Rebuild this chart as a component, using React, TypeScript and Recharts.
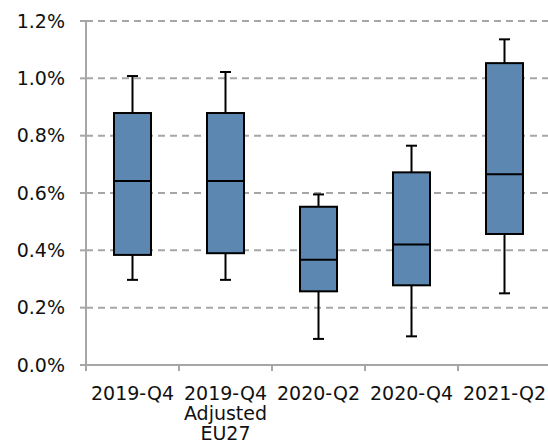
import React from "react";
import {
  ComposedChart,
  Bar,
  XAxis,
  YAxis,
  CartesianGrid,
} from "recharts";

// box plot values, in percent
const categories = ["2019-Q4", "2019-Q4\nAdjusted\nEU27", "2020-Q2", "2020-Q4", "2021-Q2"];
const minVals = [0.297, 0.297, 0.091, 0.1, 0.25];
const q1Vals = [0.384, 0.39, 0.257, 0.278, 0.457];
const medianVals = [0.642, 0.642, 0.367, 0.42, 0.665];
const q3Vals = [0.879, 0.879, 0.552, 0.672, 1.053];
const maxVals = [1.008, 1.022, 0.595, 0.765, 1.136];
const yTicks = [0, 0.2, 0.4, 0.6, 0.8, 1.0, 1.2];

const data = categories.map((name, i) => ({
  name,
  min: minVals[i],
  q1: q1Vals[i],
  median: medianVals[i],
  q3: q3Vals[i],
  max: maxVals[i],
}));

const FONT = "'DejaVu Sans', Verdana, sans-serif";
const AXIS_Y = 365; // chart height minus x axis height
const GREY = "#A6A6A6";

const BoxShape = (props: any) => {
  const { x, y, width, height, payload } = props;
  const top = Math.min(y, y + height);
  const h = Math.abs(height);
  const k = h / (payload.q3 - payload.q1);
  const toY = (v: number) => top + (payload.q3 - v) * k;
  const cx = x + width / 2;
  const cap = 5.5;
  return (
    <g>
      <line x1={cx} x2={cx} y1={toY(payload.max)} y2={top} stroke="#000" strokeWidth={2} />
      <line x1={cx} x2={cx} y1={top + h} y2={toY(payload.min)} stroke="#000" strokeWidth={2} />
      <line x1={cx - cap} x2={cx + cap} y1={toY(payload.max)} y2={toY(payload.max)} stroke="#000" strokeWidth={2} />
      <line x1={cx - cap} x2={cx + cap} y1={toY(payload.min)} y2={toY(payload.min)} stroke="#000" strokeWidth={2} />
      <rect x={x} y={top} width={width} height={h} fill="#5B87B1" stroke="#000" strokeWidth={2} />
      <line x1={x} x2={x + width} y1={toY(payload.median)} y2={toY(payload.median)} stroke="#000" strokeWidth={2} />
    </g>
  );
};

const CategoryTick = (props: any) => {
  const { x, payload, index, visibleTicksCount } = props;
  const half = payload.offset || 0;
  const lines = String(payload.value).split("\n");
  const isLast = index === visibleTicksCount - 1;
  return (
    <g>
      <line x1={x - half} x2={x - half} y1={AXIS_Y} y2={AXIS_Y + 6} stroke={GREY} strokeWidth={2} />
      {isLast && (
        <line x1={x + half} x2={x + half} y1={AXIS_Y} y2={AXIS_Y + 6} stroke={GREY} strokeWidth={2} />
      )}
      <text x={x} y={400} textAnchor="middle" fontFamily={FONT} fontSize={19} fill="#111">
        {lines.map((l, i) => (
          <tspan key={i} x={x} dy={i === 0 ? 0 : 20}>
            {l}
          </tspan>
        ))}
      </text>
    </g>
  );
};

export default function App() {
  return (
    <div style={{ position: "absolute", left: 0, top: 0, width: 548, height: 443, overflow: "hidden" }}>
      <ComposedChart
        width={556}
        height={443}
        data={data}
        margin={{ top: 21, right: 5, bottom: 0, left: 0 }}
      >
        <CartesianGrid
          vertical={false}
          stroke={GREY}
          strokeWidth={2}
          strokeDasharray="7 5"
        />
        <XAxis
          dataKey="name"
          interval={0}
          tickLine={false}
          axisLine={{ stroke: GREY, strokeWidth: 2 }}
          tick={<CategoryTick />}
          height={78}
        />
        <YAxis
          domain={[0, 1.2]}
          ticks={yTicks}
          width={86}
          tickSize={6}
          tickMargin={15}
          axisLine={{ stroke: GREY, strokeWidth: 2 }}
          tickLine={{ stroke: GREY, strokeWidth: 2 }}
          tickFormatter={(v: number) => v.toFixed(1) + "%"}
          tick={{ fontFamily: FONT, fontSize: 19, fill: "#111" }}
        />
        <Bar
          dataKey={(d: any) => [d.q1, d.q3]}
          barSize={37}
          shape={<BoxShape />}
          isAnimationActive={false}
        />
      </ComposedChart>
    </div>
  );
}
